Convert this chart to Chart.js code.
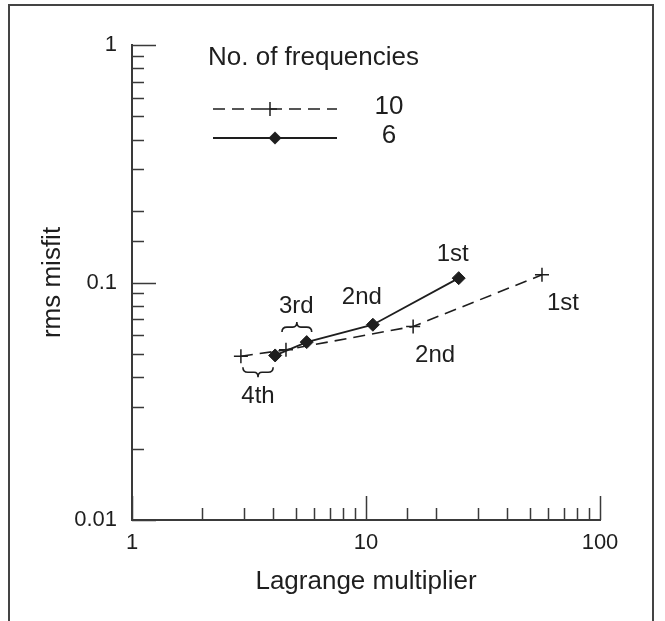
<!DOCTYPE html>
<html>
<head>
<meta charset="utf-8">
<title>rms misfit vs Lagrange multiplier</title>
<script src="https://cdn.jsdelivr.net/npm/chart.js@4.4.1/dist/chart.umd.min.js"></script>
<style>
  html, body { margin: 0; padding: 0; background: #fff; overflow: hidden; }
  #wrap { width: 665px; height: 621px; }
</style>
</head>
<body>
<div id="wrap"><canvas id="chart" width="665" height="621"></canvas></div>
<script>
// values
const lagrange10 = [2.92, 4.55, 15.9, 56.5];
const misfit10 = [0.0489, 0.0521, 0.0653, 0.1077];
const lagrange6 = [4.09, 5.58, 10.7, 24.9];
const misfit6 = [0.0493, 0.0561, 0.0664, 0.1043];
const iterations = ['4th', '3rd', '2nd', '1st'];
const seriesNames = ['10', '6'];
const legendTitle = 'No. of frequencies';
const xTickLabels = ['1', '10', '100'];
const yTickLabels = ['0.01', '0.1', '1'];

const ink = '#1e1e1e';
const axisColor = '#3a3a3a';
const fontFamily = '"Liberation Sans", Arial, Helvetica, sans-serif';

function isDecade(v) {
  const l = Math.log10(v);
  return Math.abs(l - Math.round(l)) < 1e-6;
}

function toPoints(xs, ys) {
  return xs.map((x, i) => ({ x: x, y: ys[i] }));
}

function drawMarker(ctx, style, x, y, r) {
  ctx.save();
  ctx.strokeStyle = ink;
  ctx.fillStyle = ink;
  ctx.lineWidth = 1.5;
  ctx.setLineDash([]);
  ctx.beginPath();
  if (style === 'cross') {
    ctx.moveTo(x - r, y); ctx.lineTo(x + r, y);
    ctx.moveTo(x, y - r); ctx.lineTo(x, y + r);
    ctx.stroke();
  } else {
    ctx.moveTo(x, y - r); ctx.lineTo(x + r, y);
    ctx.lineTo(x, y + r); ctx.lineTo(x - r, y);
    ctx.closePath();
    ctx.fill();
  }
  ctx.restore();
}

// curly brace between x1 and x2, at baseline y, tip pointing up (dir=-1) or down (dir=1)
function drawBrace(ctx, x1, x2, y, dir) {
  const h = 10 * dir;
  const mid = (x1 + x2) / 2;
  ctx.beginPath();
  ctx.moveTo(x1, y);
  ctx.quadraticCurveTo(x1, y + h * 0.5, x1 + 5, y + h * 0.5);
  ctx.lineTo(mid - 4, y + h * 0.5);
  ctx.quadraticCurveTo(mid, y + h * 0.5, mid, y + h);
  ctx.quadraticCurveTo(mid, y + h * 0.5, mid + 4, y + h * 0.5);
  ctx.lineTo(x2 - 5, y + h * 0.5);
  ctx.quadraticCurveTo(x2, y + h * 0.5, x2, y);
  ctx.stroke();
}

const framePlugin = {
  id: 'frame',
  beforeDraw(chart) {
    const ctx = chart.ctx;
    ctx.save();
    ctx.fillStyle = '#fff';
    ctx.fillRect(0, 0, chart.width, chart.height);
    ctx.strokeStyle = '#444';
    ctx.lineWidth = 2;
    ctx.beginPath();
    ctx.moveTo(9, chart.height + 5);
    ctx.lineTo(9, 5);
    ctx.lineTo(653, 5);
    ctx.lineTo(653, chart.height + 5);
    ctx.stroke();
    ctx.restore();
  }
};

const tickPlugin = {
  id: 'innerTicks',
  afterDraw(chart) {
    const ctx = chart.ctx;
    const a = chart.chartArea;
    const xs = chart.scales.x, ys = chart.scales.y;
    ctx.save();
    ctx.strokeStyle = axisColor;
    ctx.lineWidth = 1.5;
    ctx.beginPath();
    xs.ticks.forEach(t => {
      const px = Math.round(xs.getPixelForValue(t.value)) + 0.5;
      const len = isDecade(t.value) ? 24 : 12;
      ctx.moveTo(px, a.bottom);
      ctx.lineTo(px, a.bottom - len);
    });
    ys.ticks.forEach(t => {
      const py = Math.round(ys.getPixelForValue(t.value)) + 0.5;
      const len = isDecade(t.value) ? 24 : 12;
      ctx.moveTo(a.left, py);
      ctx.lineTo(a.left + len, py);
    });
    ctx.stroke();
    ctx.restore();
  }
};

const notesPlugin = {
  id: 'notes',
  afterDatasetsDraw(chart) {
    const ctx = chart.ctx;
    const xs = chart.scales.x, ys = chart.scales.y;
    const p10 = lagrange10.map((v, i) => ({ x: xs.getPixelForValue(v), y: ys.getPixelForValue(misfit10[i]) }));
    const p6 = lagrange6.map((v, i) => ({ x: xs.getPixelForValue(v), y: ys.getPixelForValue(misfit6[i]) }));
    ctx.save();
    ctx.fillStyle = ink;
    ctx.strokeStyle = ink;
    ctx.lineWidth = 1.6;
    ctx.font = '24px ' + fontFamily;
    ctx.textAlign = 'center';
    ctx.textBaseline = 'middle';

    // 4th: brace below the pair
    const lo = Math.max(p10[0].y, p6[0].y);
    drawBrace(ctx, p10[0].x + 2, p6[0].x - 2, lo + 11, 1);
    ctx.fillText(iterations[0], (p10[0].x + p6[0].x) / 2, lo + 40);

    // 3rd: brace above the pair
    const hi = Math.min(p10[1].y, p6[1].y);
    drawBrace(ctx, p10[1].x - 4, p6[1].x + 5, hi - 10, -1);
    ctx.fillText(iterations[1], (p10[1].x + p6[1].x) / 2, hi - 36);

    // 2nd and 1st: one label per series
    ctx.fillText(iterations[2], p6[2].x - 11, p6[2].y - 27);
    ctx.fillText(iterations[2], p10[2].x + 22, p10[2].y + 29);
    ctx.fillText(iterations[3], p6[3].x - 6, p6[3].y - 24);
    ctx.fillText(iterations[3], p10[3].x + 21, p10[3].y + 29);
    ctx.restore();
  }
};

const legendPlugin = {
  id: 'customLegend',
  afterDraw(chart) {
    const ctx = chart.ctx;
    const a = chart.chartArea;
    const x0 = a.left + 81, x1 = a.left + 205;
    ctx.save();
    ctx.fillStyle = ink;
    ctx.font = '26px ' + fontFamily;
    ctx.textBaseline = 'middle';
    ctx.textAlign = 'left';
    ctx.fillText(legendTitle, a.left + 76, a.top + 13);
    chart.data.datasets.forEach((ds, i) => {
      const y = a.top + 64 + i * 29;
      ctx.strokeStyle = ink;
      ctx.lineWidth = ds.borderWidth;
      ctx.setLineDash(ds.borderDash || []);
      ctx.beginPath();
      ctx.moveTo(x0, y);
      ctx.lineTo(x1, y);
      ctx.stroke();
      drawMarker(ctx, ds.pointStyle, (x0 + x1) / 2 + (i === 0 ? -5 : 0), y, ds.pointRadius);
      ctx.textAlign = 'center';
      ctx.fillText(seriesNames[i], a.left + 257, y - 2);
    });
    ctx.restore();
  }
};

const tickFont = { family: fontFamily, size: 22 };
const titleFont = { family: fontFamily, size: 26 };

new Chart(document.getElementById('chart'), {
  type: 'scatter',
  data: {
    datasets: [
      {
        label: seriesNames[0],
        data: toPoints(lagrange10, misfit10),
        showLine: true,
        borderColor: ink,
        borderWidth: 1.6,
        borderDash: [12, 7],
        pointStyle: 'cross',
        pointRadius: 7,
        pointBorderWidth: 1.5,
        pointBorderColor: ink,
        pointBackgroundColor: ink
      },
      {
        label: seriesNames[1],
        data: toPoints(lagrange6, misfit6),
        showLine: true,
        borderColor: ink,
        borderWidth: 1.8,
        pointStyle: 'rectRot',
        pointRadius: 6.5,
        pointBorderWidth: 1,
        pointBorderColor: ink,
        pointBackgroundColor: ink
      }
    ]
  },
  options: {
    responsive: false,
    animation: false,
    events: [],
    layout: { padding: { left: 0, top: 45, right: 65, bottom: 0 } },
    plugins: { legend: { display: false }, tooltip: { enabled: false } },
    scales: {
      x: {
        type: 'logarithmic',
        min: 1,
        max: 100,
        afterFit(scale) { scale.height = 101; },
        grid: { display: false, drawTicks: false },
        border: { display: true, color: axisColor, width: 2 },
        ticks: {
          autoSkip: false,
          maxRotation: 0,
          padding: 10,
          color: ink,
          font: tickFont,
          callback: v => isDecade(v) ? xTickLabels[Math.round(Math.log10(v))] : ''
        },
        title: { display: true, text: 'Lagrange multiplier', color: ink, font: titleFont, padding: { top: 0, bottom: 24 } }
      },
      y: {
        type: 'logarithmic',
        min: 0.01,
        max: 1,
        afterFit(scale) { scale.width = 132; },
        grid: { display: false, drawTicks: false },
        border: { display: true, color: axisColor, width: 2 },
        ticks: {
          autoSkip: false,
          padding: 15,
          color: ink,
          font: tickFont,
          callback: v => isDecade(v) ? yTickLabels[Math.round(Math.log10(v)) + 2] : ''
        },
        title: { display: true, text: 'rms misfit', color: ink, font: titleFont, padding: { top: 37, bottom: 0 } }
      }
    }
  },
  plugins: [framePlugin, tickPlugin, notesPlugin, legendPlugin]
});
</script>
</body>
</html>
